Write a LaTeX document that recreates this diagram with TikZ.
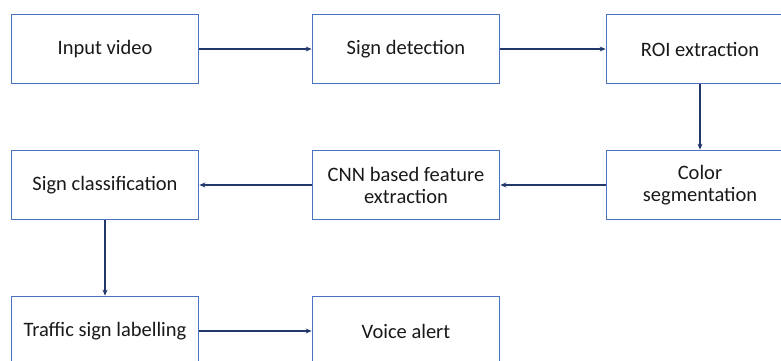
\documentclass[tikz,border=0pt]{standalone}
\usepackage{fontspec}
\setmainfont{Carlito}
\usetikzlibrary{arrows.meta}
\definecolor{boxblue}{HTML}{4A72C0}
\definecolor{linknavy}{HTML}{22386A}
\begin{document}
\begin{tikzpicture}[x=1pt,y=-1pt,
  stage/.style={draw=boxblue, line width=1.8pt, fill=white, rectangle,
    minimum width=187pt, minimum height=69pt, align=center,
    font=\fontsize{20.5}{22}\selectfont, text=black!90, inner sep=0pt},
  link/.style={draw=linknavy, line width=1.8pt, -{Stealth[length=6pt,width=5pt]}}]
  \useasboundingbox (0,0) rectangle (781,360);
  \clip (0,0) rectangle (781,360);
  \node[stage] (input) at (105,49) {Input video};
  \node[stage] (detect) at (406,49) {Sign detection};
  \node[stage] (roi) at (700,49) {ROI extraction};
  \node[stage] (color) at (700,185) {Color\\segmentation};
  \node[stage] (cnn) at (406,185) {CNN based feature\\extraction};
  \node[stage] (classify) at (105,185) {Sign classification};
  \node[stage] (label) at (105,331) {Traffic sign labelling};
  \node[stage] (voice) at (406,331) {Voice alert};
  \draw[link] (input) -- (detect);
  \draw[link] (detect) -- (roi);
  \draw[link] (roi) -- (color);
  \draw[link] (color) -- (cnn);
  \draw[link] (cnn) -- (classify);
  \draw[link] (classify) -- (label);
  \draw[link] (label) -- (voice);
\end{tikzpicture}
\end{document}
